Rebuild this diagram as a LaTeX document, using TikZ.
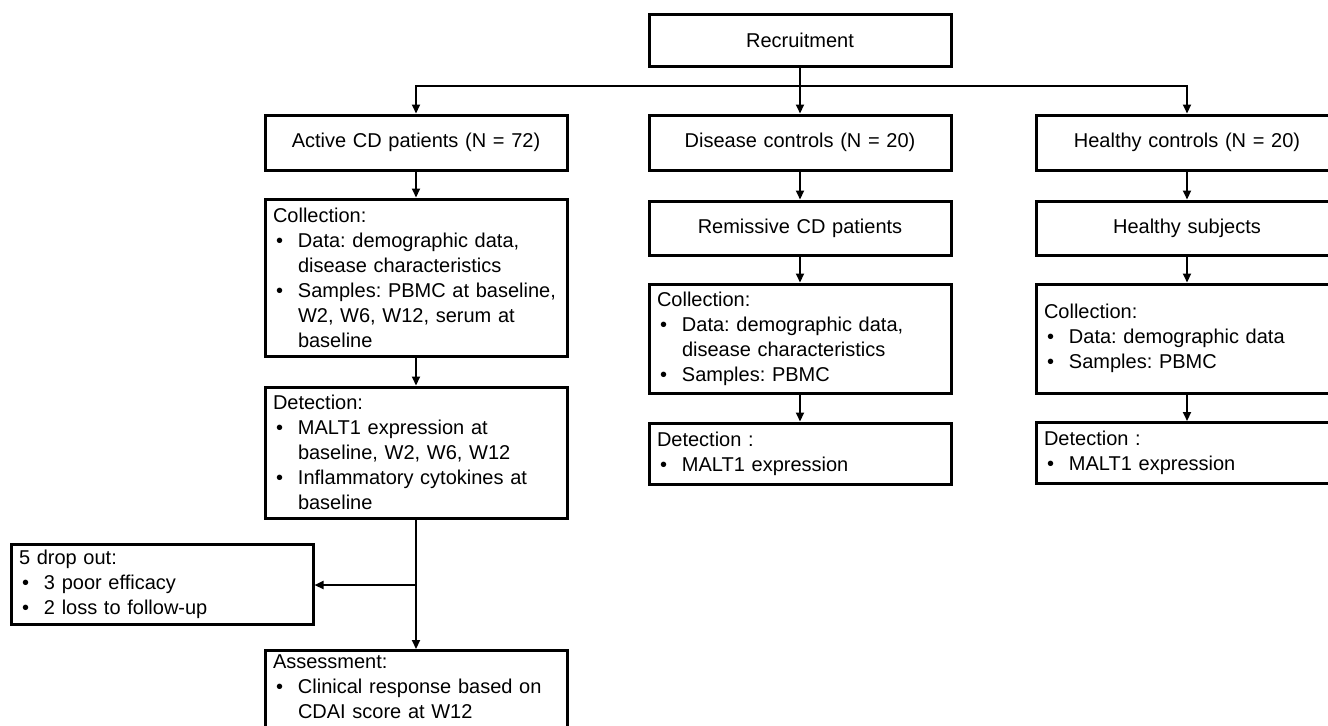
\documentclass[tikz,border=0pt]{standalone}
\usepackage{fontspec}
\setmainfont{Liberation Sans}
\usetikzlibrary{arrows.meta}

\newcommand{\bul}{\makebox[12.5pt][l]{\hspace{1.5pt}\textbullet}}
\newcommand{\ind}{\hspace*{12.5pt}}

\begin{document}
\frenchspacing
\begin{tikzpicture}[x=0.5pt, y=-0.5pt,
    box/.style={draw, line width=1.5pt, text width=143pt, inner xsep=4pt, inner ysep=2pt,
      font=\fontsize{10}{12.5}\selectfont},
    titlebox/.style={box, align=center, minimum height=27.5pt},
    listbox/.style={box, align=left},
    >={Triangle[length=4.5pt,width=4pt]},
    link/.style={->, line width=1pt}]
  \useasboundingbox (0,0) rectangle (1328,725);
  \clip (0,0) rectangle (1328,725);

  % groups
  \node[titlebox, minimum height=26pt] (recruit) at (800,40) {Recruitment};
  \coordinate (split) at (800,86);
  \node[titlebox] (active) at (416,142.5) {Active CD patients (N = 72)};
  \node[titlebox] (disease) at (800,142.5) {Disease controls (N = 20)};
  \node[titlebox] (healthy) at (1187,142.5) {Healthy controls (N = 20)};

  % active CD
  \node[listbox, minimum height=78.5pt] (activecoll) at (416,277.5) {Collection:\\
    \bul Data: demographic data,\\ \ind disease characteristics\\
    \bul Samples: PBMC at baseline,\\ \ind W2, W6, W12, serum at\\ \ind baseline};
  \node[listbox, minimum height=65.5pt] (activedet) at (416,452.5) {Detection:\\
    \bul MALT1 expression at\\ \ind baseline, W2, W6, W12\\
    \bul Inflammatory cytokines at\\ \ind baseline};
  \coordinate (branch) at (416,585);
  \node[listbox, minimum height=40pt] (dropout) at (162,584) {5 drop out:\\
    \bul 3 poor efficacy\\ \bul 2 loss to follow-up};
  \node[listbox, anchor=north] (assess) at (416,649) {Assessment:\\
    \bul Clinical response based on\\ \ind CDAI score at W12\rule[-8pt]{0pt}{8pt}};

  % disease controls
  \node[titlebox, minimum height=27pt] (remiss) at (800,228) {Remissive CD patients};
  \node[listbox, minimum height=54.5pt] (remisscoll) at (800,338.5) {Collection:\\
    \bul Data: demographic data,\\ \ind disease characteristics\\ \bul Samples: PBMC};
  \node[listbox, minimum height=30.5pt] (remissdet) at (800,453.5) {Detection :\\
    \bul MALT1 expression};

  % healthy controls
  \node[titlebox, minimum height=27pt] (subjects) at (1187,228) {Healthy subjects};
  \node[listbox, minimum height=54.5pt] (subjcoll) at (1187,338.5) {Collection:\\
    \bul Data: demographic data\\ \bul Samples: PBMC};
  \node[listbox, minimum height=30.5pt] (subjdet) at (1187,453) {Detection :\\
    \bul MALT1 expression};

  \draw[link] (recruit) -- (disease);
  \draw[link] (split) -| (active.north);
  \draw[link] (split) -| (healthy.north);
  \draw[link] (active) -- (activecoll);
  \draw[link] (activecoll) -- (activedet);
  \draw[link] (activedet) -- (assess);
  \draw[link] (branch) -- (branch -| dropout.east);
  \draw[link] (disease) -- (remiss);
  \draw[link] (remiss) -- (remisscoll);
  \draw[link] (remisscoll) -- (remissdet);
  \draw[link] (healthy) -- (subjects);
  \draw[link] (subjects) -- (subjcoll);
  \draw[link] (subjcoll) -- (subjdet);
\end{tikzpicture}
\end{document}
